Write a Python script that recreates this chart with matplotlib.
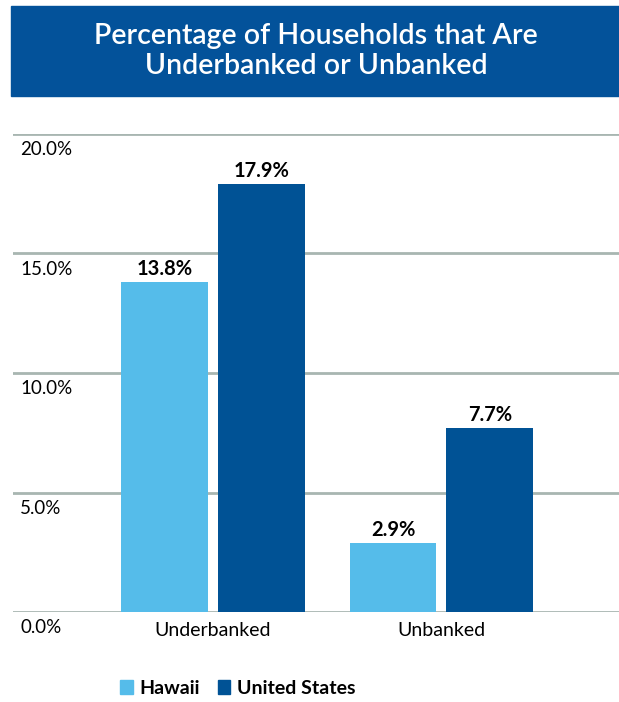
import matplotlib
matplotlib.use("Agg")
import numpy as np
import matplotlib.pyplot as plt
from matplotlib.patches import Rectangle, Patch

categories = ["Underbanked", "Unbanked"]
hawaii = [13.8, 2.9]
united_states = [17.9, 7.7]
series_names = ["Hawaii", "United States"]
yticks = [0, 5, 10, 15, 20]
title = "Percentage of Households that Are\nUnderbanked or Unbanked"

light_blue = "#55bcea"
dark_blue = "#005295"
grid_color = "#a8b6b1"

plt.rcParams["font.family"] = ["Lato", "DejaVu Sans"]

W, H = 619, 702
fig = plt.figure(figsize=(W / 100, H / 100), dpi=100)

# title banner
fig.patches.append(Rectangle((11 / W, 1 - 96 / H), 1 - 11 / W, 90 / H,
                             transform=fig.transFigure, color="#03529a", zorder=0))
fig.text(316 / W, 1 - 51 / H, title, color="white", fontsize=20.5, ha="center",
         va="center", linespacing=1.18, fontweight="semibold")

ax = fig.add_axes([13 / W, 90 / H, 606 / W, 478 / H])
x = np.arange(len(categories))
width = 0.38
off = 0.212
b1 = ax.bar(x - off, hawaii, width, color=light_blue, zorder=3)
b2 = ax.bar(x + off, united_states, width, color=dark_blue, zorder=3)

for bars, vals in [(b1, hawaii), (b2, united_states)]:
    for b, v in zip(bars, vals):
        ax.text(b.get_x() + b.get_width() / 2, v + 0.12, f"{v:.1f}%",
                ha="center", va="bottom", fontsize=14.5, fontweight="bold")

for t in yticks:
    ax.axhline(t, color=grid_color, lw=2, zorder=1)
    ax.text(0.012, t - 0.3, f"{t:.1f}%", transform=ax.get_yaxis_transform(),
            ha="left", va="top", fontsize=13.5)

ax.set_xlim(-0.875, 1.777)
ax.set_ylim(0, 20)
ax.set_xticks(x)
ax.set_xticklabels(categories, fontsize=14)
ax.tick_params(axis="x", length=0, pad=7)
ax.set_yticks([])
for s in ax.spines.values():
    s.set_visible(False)

handles = [Patch(color=light_blue), Patch(color=dark_blue)]
fig.legend(handles, series_names, loc="center", bbox_to_anchor=(238 / W, 1 - 688 / H),
           ncol=2, frameon=False, handlelength=0.65, handleheight=0.75,
           handletextpad=0.35, columnspacing=0.9,
           prop={"weight": "bold", "size": 14})

fig.savefig("out.png", dpi=100)
